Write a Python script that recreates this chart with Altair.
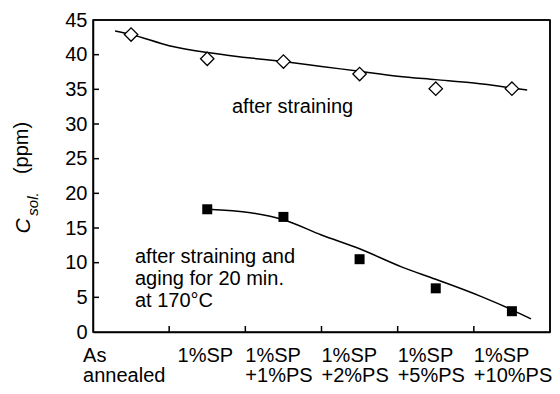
import altair as alt
import pandas as pd

FONT = "Liberation Sans"

# ---- data ----
categories = ["As\nannealed", "1%SP", "1%SP\n+1%PS", "1%SP\n+2%PS", "1%SP\n+5%PS", "1%SP\n+10%PS"]
cat_index = [0, 1, 2, 3, 4, 5]
after_straining = [42.9, 39.4, 39.0, 37.2, 35.1, 35.1]
after_aging = [None, 17.7, 16.6, 10.5, 6.3, 3.0]

curve_straining_x = [-0.21, 0, 0.5, 1, 1.5, 2, 2.5, 3, 3.5, 4, 4.5, 5, 5.2]
curve_straining_y = [43.4, 42.9, 41.3, 40.3, 39.6, 39.0, 38.3, 37.6, 36.9, 36.4, 35.9, 35.2, 34.9]
curve_aging_x = [1, 1.57, 2, 2.5, 3, 3.55, 4, 4.6, 5, 5.25]
curve_aging_y = [17.7, 17.2, 16.2, 14.0, 12.0, 9.4, 7.6, 5.1, 3.2, 1.9]

y_ticks = [0, 5, 10, 15, 20, 25, 30, 35, 40, 45]
x_tick_between = [0.5, 1.5, 2.5, 3.5, 4.5]

# ---- tables ----
pts = pd.DataFrame({"idx": cat_index, "strain": after_straining, "aged": after_aging})
curves = pd.concat([
    pd.DataFrame({"x": curve_straining_x, "y": curve_straining_y, "s": "strain"}),
    pd.DataFrame({"x": curve_aging_x, "y": curve_aging_y, "s": "aged"}),
])
labels = pd.DataFrame({"idx": cat_index, "label": categories})
yt = pd.DataFrame({"v": y_ticks[1:-1]})
xt = pd.DataFrame({"v": x_tick_between})

W, H = 457, 312
FS = 20
xs = alt.Scale(domain=[-0.5, 5.5], nice=False, zero=False)
ys = alt.Scale(domain=[0, 45], nice=False, zero=False)

xaxis = alt.Axis(labels=False, ticks=False, grid=False, title=None,
                 domainColor="black", domainWidth=1.5)
yaxis = alt.Axis(values=y_ticks, tickSize=0, labelPadding=6, grid=False, title=None,
                 labelOverlap=False, labelFlush=False, labelFont=FONT, labelFontSize=FS,
                 labelColor="black", domainColor="black", domainWidth=1.5)


def X(f):
    return alt.X(f, scale=xs, axis=xaxis)


def Y(f):
    return alt.Y(f, scale=ys, axis=yaxis)


lines = alt.Chart(curves).mark_line(color="black", strokeWidth=1.5, interpolate="monotone").encode(
    x=X("x:Q"), y=Y("y:Q"), detail="s:N",
)

diamonds = alt.Chart(pts).mark_point(shape="diamond", size=180, filled=True, fill="white",
                                     stroke="black", strokeWidth=1.3, opacity=1).encode(
    x=X("idx:Q"), y=Y("strain:Q"),
)

squares = alt.Chart(pts).transform_filter("isValid(datum.aged)").mark_point(
    shape="square", size=100, filled=True, color="black", opacity=1).encode(
    x=X("idx:Q"), y=Y("aged:Q"),
)

ytick_rules = alt.Chart(yt).mark_rule(color="black", strokeWidth=1.5).encode(
    x=alt.value(0), x2=alt.value(6), y=Y("v:Q"))

xtick_rules = alt.Chart(xt).mark_rule(color="black", strokeWidth=1.5).encode(
    x=X("v:Q"), y=alt.value(H), y2=alt.value(H - 6))

frame_top = alt.Chart(pd.DataFrame({"a": [0]})).mark_rule(color="black", strokeWidth=1.5).encode(
    x=alt.value(0), x2=alt.value(W), y=alt.value(0))
frame_right = alt.Chart(pd.DataFrame({"a": [0]})).mark_rule(color="black", strokeWidth=1.5).encode(
    x=alt.value(W), y=alt.value(0), y2=alt.value(H))

xlabels = alt.Chart(labels).transform_calculate(
    lx="datum.idx - (datum.idx == 0 ? 0.63 : (datum.idx == 1 ? 0.39 : 0.5))"
).mark_text(align="left", baseline="alphabetic", lineBreak="\n", lineHeight=20,
            font=FONT, fontSize=FS, color="black").encode(
    x=X("lx:Q"), y=alt.value(H + 30), text="label:N")

ann1 = alt.Chart(pd.DataFrame({"t": ["after straining"]})).mark_text(
    align="left", baseline="alphabetic", font=FONT, fontSize=FS, color="black").encode(
    x=alt.value(139), y=alt.value(93), text="t:N")

ann2 = alt.Chart(pd.DataFrame({"t": ["after straining and\naging for 20 min.\nat 170\u00b0C"]})).mark_text(
    align="left", baseline="alphabetic", lineBreak="\n", lineHeight=22,
    font=FONT, fontSize=FS, color="black").encode(
    x=alt.value(42), y=alt.value(243), text="t:N")

title_c = alt.Chart(pd.DataFrame({"t": ["C"]})).mark_text(
    angle=270, align="center", baseline="alphabetic", font=FONT, fontSize=21,
    fontStyle="italic", color="black").encode(x=alt.value(-63), y=alt.value(206), text="t:N")
title_sub = alt.Chart(pd.DataFrame({"t": ["sol."]})).mark_text(
    angle=270, align="center", baseline="alphabetic", font=FONT, fontSize=15,
    fontStyle="italic", color="black").encode(x=alt.value(-55), y=alt.value(184), text="t:N")
title_unit = alt.Chart(pd.DataFrame({"t": ["(ppm)"]})).mark_text(
    angle=270, align="center", baseline="alphabetic", font=FONT, fontSize=20,
    color="black").encode(x=alt.value(-65), y=alt.value(128), text="t:N")

chart = alt.layer(
    lines, diamonds, squares, ytick_rules, xtick_rules, frame_top, frame_right,
    xlabels, ann1, ann2, title_c, title_sub, title_unit
).properties(
    width=W, height=H,
    autosize=alt.AutoSizeParams(type="none"),
    padding={"left": 85, "top": 12, "right": 2, "bottom": 54},
).configure(background="white").configure_view(stroke="black", strokeWidth=1.5)

chart.save("out.html", embed_options={"renderer": "svg", "actions": False})
